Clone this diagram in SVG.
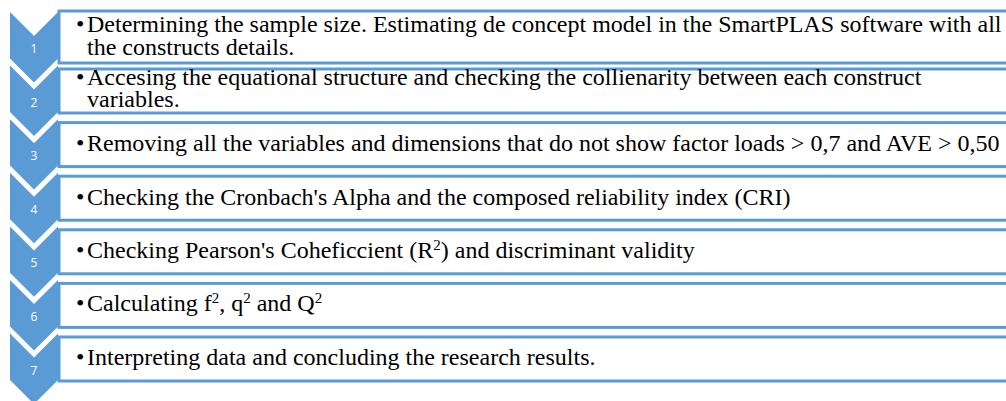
<svg xmlns="http://www.w3.org/2000/svg" width="1006" height="401" viewBox="0 0 1006 401">
<style>
.chev{fill:#5B9BD5;}
.num{font-family:"Open Sans","Liberation Sans",sans-serif;font-size:12px;fill:#FFFFFF;text-anchor:middle;}
.box{fill:#FFFFFF;stroke:#5B9BD5;stroke-width:3;}
.t{font-family:"Liberation Serif","Times New Roman",serif;font-size:24px;fill:#000000;}
.b{font-family:"Liberation Serif","Times New Roman",serif;font-size:24px;fill:#000000;}
.sup{font-size:15px;}
</style>
<rect width="1006" height="401" fill="#FFFFFF"/>
<g id="step1">
<path class="chev" d="M10,12 L34,36 L58,12 L58,58.4 L34,82.4 L10,58.4 Z"/>
<text class="num" x="34" y="53">1</text>
<rect class="box" x="59" y="11" width="960" height="52"/>
<text class="b" x="76" y="32">•</text>
<text class="t"><tspan x="87" y="32">Determining the sample size. Estimating de concept model in the SmartPLAS software with all</tspan><tspan x="87" y="55">the constructs details.</tspan></text>
</g>
<g id="step2">
<path class="chev" d="M10,65.6 L34,89.6 L58,65.6 L58,112 L34,136 L10,112 Z"/>
<text class="num" x="34" y="106.6">2</text>
<rect class="box" x="59" y="69" width="960" height="44"/>
<text class="b" x="76" y="85">•</text>
<text class="t"><tspan x="87" y="85">Accesing the equational structure and checking the collienarity between each construct</tspan><tspan x="87" y="107">variables.</tspan></text>
</g>
<g id="step3">
<path class="chev" d="M10,119.2 L34,143.2 L58,119.2 L58,165.6 L34,189.6 L10,165.6 Z"/>
<text class="num" x="34" y="160.2">3</text>
<rect class="box" x="59" y="122.6" width="960" height="44"/>
<text class="b" x="76" y="151">•</text>
<text class="t" x="87" y="151">Removing all the variables and dimensions that do not show factor loads &gt; 0,7 and AVE &gt; 0,50</text>
</g>
<g id="step4">
<path class="chev" d="M10,172.8 L34,196.8 L58,172.8 L58,219.2 L34,243.2 L10,219.2 Z"/>
<text class="num" x="34" y="213.8">4</text>
<rect class="box" x="59" y="176.2" width="960" height="44"/>
<text class="b" x="76" y="205">•</text>
<text class="t" x="87" y="205">Checking the Cronbach's Alpha and the composed reliability index (CRI)</text>
</g>
<g id="step5">
<path class="chev" d="M10,226.4 L34,250.4 L58,226.4 L58,272.8 L34,296.8 L10,272.8 Z"/>
<text class="num" x="34" y="267.4">5</text>
<rect class="box" x="59" y="229.8" width="960" height="44"/>
<text class="b" x="76" y="258">•</text>
<text class="t" x="87" y="258">Checking Pearson's Coheficcient (R<tspan class="sup" dy="-8">2</tspan><tspan dy="8">) and discriminant validity</tspan></text>
</g>
<g id="step6">
<path class="chev" d="M10,280 L34,304 L58,280 L58,326.4 L34,350.4 L10,326.4 Z"/>
<text class="num" x="34" y="321">6</text>
<rect class="box" x="59" y="283.4" width="960" height="44"/>
<text class="b" x="76" y="311">•</text>
<text class="t" x="87" y="311">Calculating f<tspan class="sup" dy="-8">2</tspan><tspan dy="8">, q</tspan><tspan class="sup" dy="-8">2</tspan><tspan dy="8"> and Q</tspan><tspan class="sup" dy="-8">2</tspan></text>
</g>
<g id="step7">
<path class="chev" d="M10,333.6 L34,357.6 L58,333.6 L58,380 L34,404 L10,380 Z"/>
<text class="num" x="34" y="374.6">7</text>
<rect class="box" x="59" y="337" width="960" height="44"/>
<text class="b" x="76" y="365">•</text>
<text class="t" x="87" y="365">Interpreting data and concluding the research results.</text>
</g>
</svg>
